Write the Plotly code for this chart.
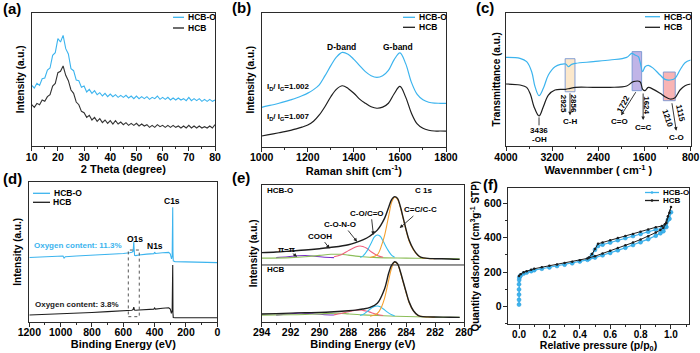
import plotly.graph_objects as go

W, H = 700, 353
FONT = 'Liberation Sans'
BLUE = '#3CB4EE'
BLACK = '#1E1E1E'
AX = '#2b2b2b'


def PX(x):
    return x / W


def PY(y):
    return 1 - y / H


# ---------------- (a) XRD ----------------
xrd_theta = list(range(10, 81))
xrd_hcbo = [45.5, 43.5, 47, 45.5, 50.5, 51, 57, 58.5, 68, 70,
            80.5, 78, 83, 73, 69, 58, 56.5, 49.5, 49, 44,
            45, 40.5, 42.5, 39.5, 41.5, 38.5, 40, 37.5, 39.5, 37,
            39, 37, 38.5, 36.5, 38, 36.5, 38, 36, 37.5, 35.5,
            37.5, 35.5, 37, 35.5, 37, 35, 36.5, 35.5, 37.5, 35,
            36.5, 35, 36.5, 34.5, 36, 34.5, 36, 34.5, 35.5, 34,
            36.5, 34, 35.5, 34, 35.5, 33.5, 35, 33.5, 35, 33.5,
            34.5]
xrd_hcb = [31, 29, 32, 31, 34.5, 33.5, 37, 38.5, 45, 47,
           55, 56, 60, 53, 49, 42, 39.5, 33, 31, 26,
           25, 21.5, 23, 19.5, 21.5, 18.5, 20.5, 17.5, 19.5, 17,
           19, 16.5, 19, 16.5, 18, 16, 17.5, 15.5, 17, 15.5,
           17, 15, 16.5, 15, 16, 14, 15.5, 14, 16, 14.5,
           15.5, 14, 15.5, 14, 15.5, 14, 15, 13.5, 15, 13.5,
           15.5, 13.5, 15, 13.5, 15, 13.5, 14.5, 13.5, 15, 13.5,
           16]

# ---------------- (b) Raman ----------------
raman_shift = list(range(1000, 1801, 25))
raman_hcbo = [29.4, 30.4, 31.3, 32.4, 33.6, 34.9, 36.3, 38, 40, 42.6, 46.2, 53, 60.5,
              67, 70.4, 69, 65.2, 60.5, 56, 53, 51.8, 53, 57, 65, 70, 62, 48, 39, 35,
              33.2, 32.5, 32.4, 32.3]
raman_hcb = [8, 8.8, 9.6, 10.4, 11.2, 12.2, 13.3, 14.6, 16.2, 19, 23.7, 30, 37.3,
             43, 45.5, 43.5, 39.9, 35.5, 32.4, 29.8, 28.7, 29.5, 32.4, 39.5, 45, 37,
             25, 17, 13.7, 12.3, 11.7, 11.7, 11.6]

# ---------------- (c) FTIR ----------------
ftir_wn_hcbo = [4000, 3757, 3642, 3555, 3497, 3428, 3353, 3266, 3151, 2966, 2920, 2862,
                2793, 2487, 2198, 1909, 1822, 1765, 1707, 1678, 1632, 1591, 1534, 1447,
                1331, 1245, 1158, 1072, 985, 898, 800]
ftir_hcbo = [66.5, 65.75, 63.25, 55.75, 44.5, 37.75, 43.25, 53.25, 59.5, 61.5, 59.5,
             61.25, 62, 63.25, 64.5, 66.5, 69.5, 68.25, 67, 63.25, 55.75, 59.5, 60.5,
             58.25, 53.25, 50, 49.5, 50.75, 57, 62.5, 64.5]
ftir_wn_hcb = [4000, 3757, 3642, 3573, 3515, 3428, 3353, 3266, 3151, 2966, 2891, 2793,
               2487, 2198, 1909, 1794, 1678, 1632, 1591, 1534, 1447, 1331, 1245, 1158,
               1072, 985, 898, 800]
ftir_hcb = [46.5, 45.75, 44, 38.25, 29.5, 22.5, 29.5, 38.25, 42, 42.5, 43.25, 44, 44,
            44, 45, 48.25, 48.25, 42.5, 41.5, 44, 42.5, 39.5, 37, 35.25, 36.25, 42,
            45.25, 46.5]

# ---------------- (d) XPS survey ----------------
xps_be_hcbo = [1200, 1100, 1000, 985, 978, 970, 900, 800, 700, 600, 560, 545, 537, 535,
               533, 531, 528, 520, 500, 450, 405, 400, 395, 350, 310, 300, 292, 288,
               286, 285, 284.5, 284, 283, 281, 270, 200, 100, 0]
xps_hcbo = [46, 46.3, 46.8, 47, 45.5, 46.5, 47, 47.5, 48, 48.8, 49.4, 49.7, 50.5, 54,
            57.3, 52, 47.5, 47.3, 47.8, 48.4, 48.7, 49.8, 48.8, 49.4, 49.6, 48.5, 45,
            47, 60, 75, 81.9, 70, 50, 43.5, 43, 42.8, 42.5, 42.3]
xps_be_hcb = [1200, 1100, 1000, 978, 900, 800, 700, 600, 545, 537, 533, 529, 520, 500,
              405, 400, 395, 350, 310, 300, 293, 288, 286, 285, 284.5, 284, 283, 281,
              270, 200, 100, 0]
xps_hcb = [4.8, 5.2, 5.6, 5.4, 6, 6.6, 7.2, 7.9, 8.2, 8.8, 10.5, 8.4, 8.2, 8.4, 9, 9.8,
           9, 9.6, 10, 9, 6, 8, 22, 33, 40.6, 30, 6, 3, 2.8, 2.8, 2.8, 2.8]

# ---------------- (e) C 1s ----------------
c1s_be = [294, 293, 292, 291, 290, 289, 288, 287.5, 287, 286.5, 286, 285.5, 285.2, 285,
          284.8, 284.6, 284.4, 284.2, 284, 283.8, 283.5, 283.2, 283, 282.5, 282, 281,
          280.3]
c1s_env_hcbo = [50.5, 51, 51.7, 52.4, 53.4, 54.6, 56.3, 57.8, 59.8, 62.7, 67, 75.6, 84.1,
                89.5, 91.5, 90.2, 84.1, 75.6, 67, 59.8, 53, 48.8, 47.3, 46.3, 46.1,
                45.9, 45.6]
c1s_env_hcb = [5.6, 5.9, 6.3, 6.6, 6.8, 7.3, 8, 8.5, 9.3, 10.5, 13.5, 24, 36, 41.5,
               43.9, 42.5, 36.5, 29, 21.5, 14.5, 8, 4.8, 3.9, 3.5, 3.4, 3.3, 3.2]

cc_be = [286.5, 286, 285.7, 285.5, 285.2, 285, 284.8, 284.6, 284.4, 284.2, 284, 283.8,
         283.5, 283.2, 283, 282.5, 282]
cc_hcbo = [47, 49, 56, 63, 78, 87.5, 91, 89.5, 83.5, 75, 66.5, 59, 52.5, 48.5, 47,
           46.2, 46]
cc_hcb = [4, 6, 11, 17, 31, 39.5, 43.5, 42, 36, 28.5, 21, 14, 7.8, 4.6, 3.9, 3.4, 3.3]

co_be = [287.2, 287, 286.7, 286.4, 286.2, 286, 285.8, 285.6, 285.3, 285, 284.8]
co_hcbo = [47.2, 48, 52, 58, 62, 63.4, 62.5, 59, 53, 48.5, 47.2]
co_hcb = [4.5, 5.2, 7.5, 10, 11.2, 11.5, 11, 9.5, 7, 5, 4.3]

cono_be = [289, 288.5, 288, 287.5, 287.2, 287, 286.7, 286.4, 286, 285.6]
cono_hcbo = [47.5, 49, 52, 54.7, 55.4, 55, 53.5, 51, 48.5, 47.2]
cono_hcb = [5, 6, 7.3, 8.4, 8.6, 8.3, 7.6, 6.6, 5.3, 4.5]

cooh_be = [294, 292, 291, 290, 289.2, 288.5, 288, 287, 286, 284, 282, 280.3]
cooh_hcbo = [46.5, 46.9, 47.5, 48.5, 49.3, 49.3, 48.7, 47.5, 46.9, 46.5, 46.2, 46]
cooh_hcb = [4.8, 5.1, 5.3, 5.7, 6.1, 6.1, 5.7, 5, 4.5, 3.8, 3.3, 3.2]

pipi_be = [293, 292.2, 291.5, 291, 290.5, 289.8, 289]
pipi_hcbo = [46.9, 47.5, 48.2, 48.4, 48.1, 47.3, 46.9]
pipi_hcb = [4.8, 5.6, 6.3, 6.3, 6, 5.3, 4.9]

# ---------------- (f) N2 isotherms ----------------
bet_p_ads_hcbo = [0, 0, 0, 0, 0, 0.001, 0.002, 0.005, 0.01, 0.03, 0.05, 0.08, 0.1, 0.15,
                  0.2, 0.25, 0.3, 0.35, 0.4, 0.45, 0.5, 0.55, 0.6, 0.65, 0.7, 0.75, 0.8,
                  0.85, 0.9, 0.93, 0.95, 0.97, 0.99, 1.0]
bet_q_ads_hcbo = [12, 40, 70, 100, 130, 155, 168, 175, 180, 192, 198, 206, 212, 220, 228,
                  236, 244, 252, 262, 272, 285, 298, 312, 327, 342, 358, 374, 392, 412,
                  426, 438, 462, 510, 548]
bet_p_des_hcbo = [0.98, 0.96, 0.94, 0.9, 0.85, 0.8, 0.75, 0.7, 0.65, 0.6, 0.55, 0.52,
                  0.5, 0.48, 0.46]
bet_q_des_hcbo = [505, 465, 455, 448, 435, 422, 410, 398, 386, 372, 360, 352, 330, 300,
                  278]
bet_p_ads_hcb = [0, 0.01, 0.03, 0.05, 0.08, 0.1, 0.15, 0.2, 0.25, 0.3, 0.35, 0.4, 0.45,
                 0.5, 0.55, 0.6, 0.65, 0.7, 0.75, 0.8, 0.85, 0.9, 0.93, 0.95, 0.97, 0.99,
                 1.0]
bet_q_ads_hcb = [178, 188, 200, 206, 214, 220, 229, 237, 245, 253, 261, 270, 280, 293,
                 308, 324, 340, 356, 372, 390, 408, 430, 445, 458, 485, 545, 578]
bet_p_des_hcb = [0.98, 0.96, 0.94, 0.9, 0.85, 0.8, 0.75, 0.7, 0.65, 0.6, 0.55, 0.52,
                 0.5, 0.48, 0.46]
bet_q_des_hcb = [525, 478, 468, 461, 448, 435, 422, 410, 398, 385, 372, 365, 335, 305,
                 285]

# ---------------- figure ----------------
fig = go.Figure()


def line(x, y, ax, color, width=1.0, shape='linear', **kw):
    fig.add_trace(go.Scatter(x=x, y=y, mode='lines', xaxis='x' + ax, yaxis='y' + ax,
                             line=dict(color=color, width=width, shape=shape),
                             showlegend=False, hoverinfo='skip', **kw))


# (a)
line(xrd_theta, xrd_hcbo, '', BLUE, 1.1)
line(xrd_theta, xrd_hcb, '', '#333333', 1.1)
# (b)
line(raman_shift, raman_hcbo, '2', BLUE, 1.2, 'spline')
line(raman_shift, raman_hcb, '2', BLACK, 1.2, 'spline')
# (c)
line(ftir_wn_hcbo, ftir_hcbo, '3', BLUE, 1.2, 'spline')
line(ftir_wn_hcb, ftir_hcb, '3', BLACK, 1.2, 'spline')
# (d)
line(xps_be_hcbo, xps_hcbo, '4', BLUE, 1.1)
line(xps_be_hcb, xps_hcb, '4', BLACK, 1.1)
# (e) components then envelope
comp_colors = {'pipi': '#7A2FC8', 'cooh': '#8DBE5A', 'cono': '#F0607E',
               'co': '#38BFF0', 'cc': '#F5A030'}
for be, top, bot, key in [(pipi_be, pipi_hcbo, pipi_hcb, 'pipi'),
                          (cooh_be, cooh_hcbo, cooh_hcb, 'cooh'),
                          (cono_be, cono_hcbo, cono_hcb, 'cono'),
                          (co_be, co_hcbo, co_hcb, 'co'),
                          (cc_be, cc_hcbo, cc_hcb, 'cc')]:
    line(be, top, '5', comp_colors[key], 1.1, 'spline')
    line(be, bot, '5', comp_colors[key], 1.1, 'spline')
line(c1s_be, c1s_env_hcbo, '5', BLACK, 1.4, 'spline')
line(c1s_be, c1s_env_hcb, '5', BLACK, 1.4, 'spline')
# (f)
fig.add_trace(go.Scatter(x=bet_p_ads_hcbo + bet_p_des_hcbo, y=bet_q_ads_hcbo + bet_q_des_hcbo,
                         mode='lines+markers', xaxis='x6', yaxis='y6', showlegend=False,
                         line=dict(color=BLUE, width=1.2),
                         marker=dict(size=4, color=BLUE, line=dict(color='#2A9AD8', width=0.5)),
                         hoverinfo='skip'))
fig.add_trace(go.Scatter(x=bet_p_ads_hcb + bet_p_des_hcb, y=bet_q_ads_hcb + bet_q_des_hcb,
                         mode='lines+markers', xaxis='x6', yaxis='y6', showlegend=False,
                         line=dict(color=BLACK, width=1),
                         marker=dict(size=2.5, color=BLACK), hoverinfo='skip'))

TICKF = dict(family=FONT, size=10.5, color='black', weight='bold')
XTF = dict(family=FONT, size=11, color='black', weight='bold')
YTF = dict(family=FONT, size=10, color='black', weight='bold')


def xax(dom, rng, tick0, dtick, mdtick, title, anchor, fmt=None, tsize=11, lsize=10.5, st=0):
    d = dict(domain=[PX(dom[0]), PX(dom[1])], range=rng, anchor=anchor,
             showline=True, mirror=True, linecolor=AX, linewidth=1,
             ticks='outside', ticklen=4, tickwidth=1, tickcolor=AX,
             tick0=tick0, dtick=dtick, showgrid=False, zeroline=False,
             tickfont=dict(TICKF, size=lsize), automargin=False, ticklabelstandoff=-3,
             title=dict(text=title, font=dict(XTF, size=tsize), standoff=st),
             minor=dict(ticks='outside', ticklen=2, tickcolor=AX, dtick=mdtick, tick0=tick0))
    if fmt:
        d['tickformat'] = fmt
    return d


def yax(dom, rng, title, anchor, standoff=3):
    return dict(domain=[PY(dom[1]), PY(dom[0])], range=rng, anchor=anchor,
                showline=True, mirror=True, linecolor=AX, linewidth=1,
                ticks='', showticklabels=False, showgrid=False, zeroline=False,
                automargin=False, title=dict(text=title, font=YTF, standoff=standoff))


layout = dict(
    width=W, height=H, margin=dict(l=0, r=0, t=0, b=0), autosize=False,
    paper_bgcolor='white', plot_bgcolor='white', showlegend=False,
    font=dict(family=FONT, color='black'),
    xaxis=xax((31.7, 215), [10, 80], 10, 10, 5, '2 Theta (degree)', 'y'),
    yaxis=yax((12.7, 146), [0, 100], 'Intensity (a.u.)', 'x', 4),
    xaxis2=xax((261.7, 446), [1000, 1800], 1000, 200, 100, 'Raman shift (cm<sup>-1</sup>)', 'y2'),
    yaxis2=yax((12.7, 146.7), [0, 100], 'Intensity (a.u.)', 'x2', 4),
    xaxis3=xax((506, 690.7), [4000, 800], 800, 800, 400, 'Wavennmber ( cm<sup>-1</sup> )', 'y3'),
    yaxis3=yax((12.7, 146), [0, 100], 'Transmittance (a.u.)', 'x3', 2),
    xaxis4=xax((29.3, 217.3), [1200, 0], 0, 200, 100, 'Binding Energy (eV)', 'y4'),
    yaxis4=yax((182, 321.7), [0, 100], 'Intensity (a.u.)', 'x4', 4),
    xaxis5=xax((261.7, 464), [294, 280], 280, 2, 1, 'Binding Energy (eV)', 'y5'),
    yaxis5=yax((185, 321.7), [0, 100], 'Intensity (a.u.)', 'x5', 1),
    xaxis6=xax((507.7, 689.3), [-0.0746, 1.1206], 0, 0.2, 0.1,
               'Relative pressure (p/p<sub>0</sub>)', 'y6', '.1f', tsize=10.5, lsize=10, st=1),
)
y6 = yax((188.3, 324), [-100.6, 687], 'Quantity adsorbed (cm<sup>3</sup>g<sup>-1</sup> STP)', 'x6', 2)
y6.update(ticks='outside', showticklabels=True, ticklen=4, tickwidth=1, tickcolor=AX,
          tick0=0, dtick=200, tickfont=TICKF, ticklabelstandoff=-1,
          minor=dict(ticks='outside', ticklen=2, tickcolor=AX, dtick=100, tick0=0))
y6['title']['font'] = dict(family=FONT, size=10, color='black', weight='bold')
layout['yaxis6'] = y6
fig.update_layout(**layout)

ann = []
shapes = []


def txt(x, y, t, ax, size=8, color='black', xanchor='center', angle=0):
    ann.append(dict(x=x, y=y, xref='x' + ax, yref='y' + ax, text=t, showarrow=False,
                    xanchor=xanchor, yanchor='middle', textangle=angle,
                    font=dict(family=FONT, size=size, color=color, weight='bold')))


def arrow(x0, y0, x1, y1, ax, head=2):
    ann.append(dict(x=x1, y=y1, ax=x0, ay=y0, xref='x' + ax, yref='y' + ax,
                    axref='x' + ax, ayref='y' + ax, text='', showarrow=True,
                    arrowhead=head, arrowsize=0.8, arrowwidth=0.9, arrowcolor='#222'))


# panel labels
for lab, x, y in [('(a)', 1, 8.5), ('(b)', 230, 7.5), ('(c)', 474, 8), ('(d)', 1, 178),
                  ('(e)', 230, 177.5), ('(f)', 481, 184.5)]:
    ann.append(dict(x=PX(x), y=PY(y), xref='paper', yref='paper', text=lab, showarrow=False,
                    xanchor='left', yanchor='middle',
                    font=dict(family=FONT, size=15, color='black', weight='bold')))


# legends
def legend(x0, x1, ys, marker=False, size=8.5):
    for (lab, col), y in zip([('HCB-O', BLUE), ('HCB', BLACK)], ys):
        shapes.append(dict(type='line', xref='paper', yref='paper', x0=PX(x0), x1=PX(x1),
                           y0=PY(y), y1=PY(y), line=dict(color=col, width=1.3)))
        if marker:
            xm = (x0 + x1) / 2
            shapes.append(dict(type='circle', xref='paper', yref='paper',
                               x0=PX(xm - 1.3), x1=PX(xm + 1.3), y0=PY(y + 1.3), y1=PY(y - 1.3),
                               fillcolor=col, line=dict(color=col, width=0)))
        ann.append(dict(x=PX(x1 + 1.5), y=PY(y), xref='paper', yref='paper', text=lab,
                        showarrow=False, xanchor='left', yanchor='middle',
                        font=dict(family=FONT, size=size, color='black', weight='bold')))


legend(173, 184, (17.3, 28))
legend(403, 415, (17.3, 27.3))
legend(645, 660, (16.7, 27.3))
legend(33, 50, (193.3, 202.3))
legend(645, 659, (192.5, 200.5), marker=True, size=8)

# (b) annotations
txt(1347, 74.6, 'D-band', '2', 8.5)
txt(1593, 74.6, 'G-band', '2', 8.5)
txt(1014, 44.3, 'I<sub>D</sub>/ I<sub>G</sub>=1.002', '2', 8, xanchor='left')
txt(1014, 21.9, 'I<sub>D</sub>/ I<sub>G</sub>=1.007', '2', 8, xanchor='left')

# (c) highlight boxes
for x0, x1, y0, y1, fill in [(2975, 2805, 40.7, 65.5, 'rgba(250,220,175,0.65)'),
                             (1815, 1650, 41.5, 70.8, 'rgba(150,130,215,0.6)'),
                             (1274, 1068, 34, 55.5, 'rgba(245,130,130,0.6)')]:
    shapes.append(dict(type='rect', xref='x3', yref='y3', x0=x0, x1=x1, y0=y0, y1=y1,
                       fillcolor=fill, line=dict(color='rgba(120,150,210,0.9)', width=1),
                       layer='below'))
txt(3428, 11.8, '3436', '3')
txt(3428, 4.8, '-OH', '3')
shapes.append(dict(type='line', xref='x3', yref='y3', x0=3428, x1=3428, y0=15.5, y1=21.5,
                   line=dict(color='#222', width=0.9)))
txt(2990, 31.5, '2925', '3', angle=90)
txt(2815, 31.5, '2856', '3', angle=90)
arrow(2891, 40.7, 2891, 23, '3')
txt(2891, 18.2, 'C-H', '3')
txt(1975, 31.5, '1722', '3', angle=-62)
arrow(1736, 41.5, 2005, 23, '3')
txt(2030, 18.5, 'C=O', '3')
txt(1555, 30.5, '1624', '3', angle=90)
arrow(1624, 40.5, 1624, 19.5, '3')
txt(1621, 14, 'C=C', '3')
txt(1195, 21, '1210', '3', angle=72)
txt(985, 25, '1115', '3', angle=78)
arrow(1129, 33.2, 1050, 11.5, '3')
txt(1043, 6.5, 'C-O', '3')

# (d)
shapes.append(dict(type='rect', xref='x4', yref='y4', x0=568, x1=498, y0=3.6, y1=51.3,
                   line=dict(color='#444', width=0.9, dash='dot'), fillcolor='rgba(0,0,0,0)'))
txt(525, 59.5, 'O1s', '4', 8.5)
txt(398, 54.2, 'N1s', '4', 8.5)
txt(287, 86.5, 'C1s', '4', 8.5)
txt(1185, 54.2, 'Oxygen content: 11.3%', '4', 8, BLUE, 'left')
txt(1174, 12.6, 'Oxygen content: 3.8%', '4', 8, '#222', 'left')

# (e)
shapes.append(dict(type='line', xref='x5 domain', yref='y5', x0=0, x1=1, y0=41.5, y1=41.5,
                   line=dict(color=AX, width=1)))
txt(293.75, 95.9, 'HCB-O', '5', 8, xanchor='left')
txt(282.8, 95.9, 'C 1s', '5', 8)
txt(293.75, 38.5, 'HCB', '5', 8, xanchor='left')
txt(292.3, 52.6, 'π−π', '5', 8)
arrow(291.95, 50.5, 291.55, 47.6, '5')
txt(289.95, 62.3, 'COOH', '5', 8)
arrow(289.72, 59.3, 289.3, 53.5, '5')
txt(288.55, 70.8, 'C-O-N-O', '5', 8)
arrow(288.1, 67.8, 287.4, 58.5, '5')
txt(286.7, 79.4, 'C-O/C=O', '5', 8)
arrow(286.4, 76, 286.27, 63.5, '5')
txt(283.0, 82.2, 'C=C/C-C', '5', 8)
arrow(283.4, 78.3, 284.45, 68.5, '5')

fig.update_layout(annotations=ann, shapes=shapes)
fig.write_html('out.html')
